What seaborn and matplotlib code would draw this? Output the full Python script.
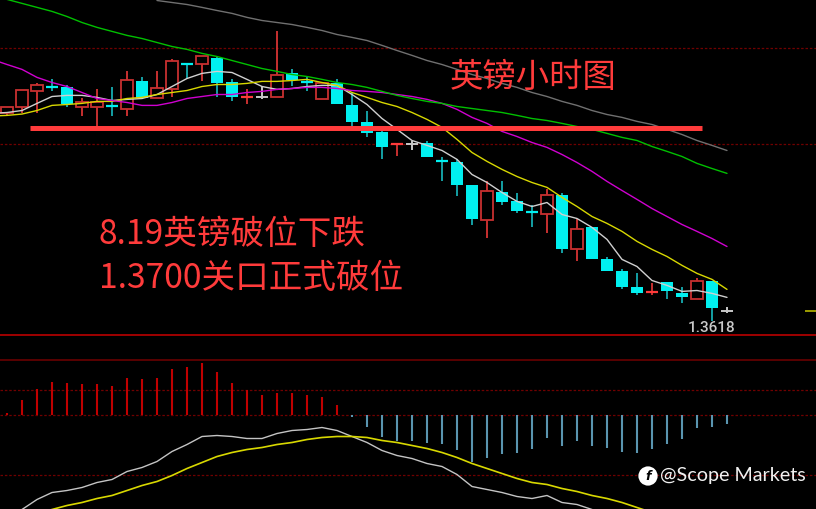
import numpy as np
import pandas as pd
import seaborn as sns
import matplotlib.pyplot as plt

# GBP hourly candles
opens = [1.37068, 1.37095, 1.37171, 1.37188, 1.37185, 1.37099, 1.37099, 1.37105, 1.37090, 1.37212,
         1.37135, 1.37176, 1.37294, 1.37288, 1.37315, 1.37207, 1.37139, 1.37140, 1.37144, 1.37248,
         1.37213, 1.37131, 1.37207, 1.37104, 1.37027, 1.36982, 1.36927, 1.36928, 1.36933, 1.36857,
         1.36847, 1.36744, 1.36586, 1.36712, 1.36672, 1.36628, 1.36613, 1.36699, 1.36460, 1.36555,
         1.36415, 1.36357, 1.36289, 1.36261, 1.36307, 1.36262, 1.36231, 1.36312, 1.36181]
highs = [1.37095, 1.37171, 1.37203, 1.37225, 1.37194, 1.37135, 1.37180, 1.37185, 1.37257, 1.37230,
         1.37257, 1.37311, 1.37294, 1.37324, 1.37324, 1.37225, 1.37180, 1.37189, 1.37437, 1.37266,
         1.37230, 1.37203, 1.37225, 1.37162, 1.37077, 1.37009, 1.36929, 1.36946, 1.36946, 1.36870,
         1.36865, 1.36744, 1.36762, 1.36762, 1.36708, 1.36658, 1.36726, 1.36708, 1.36595, 1.36555,
         1.36424, 1.36370, 1.36348, 1.36307, 1.36307, 1.36285, 1.36325, 1.36316, 1.36199]
lows = [1.37063, 1.37072, 1.37072, 1.37171, 1.37099, 1.37054, 1.37009, 1.37054, 1.37054, 1.37135,
        1.37135, 1.37140, 1.37225, 1.37212, 1.37140, 1.37126, 1.37108, 1.37131, 1.37144, 1.37189,
        1.37167, 1.37131, 1.37108, 1.37009, 1.36964, 1.36861, 1.36874, 1.36901, 1.36870, 1.36762,
        1.36694, 1.36568, 1.36505, 1.36658, 1.36618, 1.36555, 1.36528, 1.36438, 1.36402, 1.36415,
        1.36361, 1.36280, 1.36249, 1.36249, 1.36235, 1.36213, 1.36231, 1.36132, 1.36172]
closes = [1.37095, 1.37171, 1.37194, 1.37186, 1.37108, 1.37117, 1.37117, 1.37103, 1.37216, 1.37135,
          1.37180, 1.37302, 1.37292, 1.37324, 1.37207, 1.37140, 1.37141, 1.37140, 1.37239, 1.37216,
          1.37211, 1.37203, 1.37108, 1.37027, 1.36978, 1.36919, 1.36929, 1.36928, 1.36870, 1.36855,
          1.36748, 1.36591, 1.36717, 1.36667, 1.36627, 1.36626, 1.36699, 1.36460, 1.36550, 1.36415,
          1.36361, 1.36289, 1.36262, 1.36263, 1.36267, 1.36240, 1.36316, 1.36190, 1.36181]

# moving averages, first value is one bar before the first candle
ma_white = [1.37068, 1.37072, 1.37081, 1.37113, 1.37144, 1.37149, 1.37149, 1.37140, 1.37126, 1.37131,
            1.37135, 1.37153, 1.37189, 1.37225, 1.37248, 1.37257, 1.37252, 1.37221, 1.37189, 1.37176,
            1.37180, 1.37189, 1.37194, 1.37194, 1.37153, 1.37108, 1.37045, 1.36996, 1.36946, 1.36924,
            1.36901, 1.36861, 1.36793, 1.36757, 1.36712, 1.36672, 1.36649, 1.36667, 1.36613, 1.36595,
            1.36555, 1.36501, 1.36411, 1.36379, 1.36316, 1.36294, 1.36267, 1.36271, 1.36258, 1.36240]
ma_yellow = [1.37056, 1.37059, 1.37065, 1.37081, 1.37104, 1.37108, 1.37113, 1.37122, 1.37122, 1.37135,
             1.37140, 1.37153, 1.37162, 1.37171, 1.37189, 1.37198, 1.37198, 1.37203, 1.37212, 1.37212,
             1.37216, 1.37221, 1.37207, 1.37194, 1.37162, 1.37140, 1.37117, 1.37099, 1.37072, 1.37041,
             1.37005, 1.36951, 1.36892, 1.36852, 1.36816, 1.36784, 1.36757, 1.36735, 1.36690, 1.36649,
             1.36604, 1.36573, 1.36537, 1.36492, 1.36456, 1.36424, 1.36384, 1.36348, 1.36321, 1.36276]
ma_magenta = [1.37311, 1.37288, 1.37266, 1.37230, 1.37207, 1.37189, 1.37162, 1.37135, 1.37126, 1.37117,
              1.37104, 1.37104, 1.37117, 1.37135, 1.37144, 1.37153, 1.37153, 1.37162, 1.37167, 1.37176,
              1.37180, 1.37185, 1.37185, 1.37180, 1.37171, 1.37167, 1.37162, 1.37153, 1.37144, 1.37131,
              1.37113, 1.37086, 1.37050, 1.37023, 1.36987, 1.36964, 1.36937, 1.36915, 1.36883, 1.36847,
              1.36807, 1.36762, 1.36721, 1.36681, 1.36640, 1.36604, 1.36568, 1.36537, 1.36505, 1.36469]
ma_green = [1.37599, 1.37581, 1.37563, 1.37545, 1.37527, 1.37504, 1.37477, 1.37455, 1.37437, 1.37419,
            1.37405, 1.37387, 1.37369, 1.37356, 1.37338, 1.37324, 1.37306, 1.37288, 1.37270, 1.37257,
            1.37243, 1.37234, 1.37221, 1.37207, 1.37198, 1.37185, 1.37167, 1.37149, 1.37135, 1.37122,
            1.37113, 1.37099, 1.37090, 1.37081, 1.37072, 1.37059, 1.37045, 1.37036, 1.37023, 1.37009,
            1.36996, 1.36978, 1.36960, 1.36946, 1.36919, 1.36897, 1.36874, 1.36843, 1.36820, 1.36798]
# gray one enters the frame at bar 10
ma_gray = [1.37576, 1.37567, 1.37558, 1.37545, 1.37531, 1.37518, 1.37500, 1.37486, 1.37477, 1.37468,
           1.37455, 1.37441, 1.37423, 1.37410, 1.37396, 1.37374, 1.37351, 1.37329, 1.37306, 1.37288,
           1.37266, 1.37243, 1.37225, 1.37203, 1.37185, 1.37162, 1.37144, 1.37122, 1.37104, 1.37081,
           1.37063, 1.37050, 1.37032, 1.37018, 1.36996, 1.36973, 1.36946, 1.36924, 1.36901]

# MACD panel, in points (0.00001)
macd_hist = [2, 15, 26, 33, 32, 31, 31, 29, 37, 36,
             37, 46, 48, 52, 43, 32, 25, 20, 22, 22,
             20, 18, 10, -2, -12, -22, -26, -26, -28, -29,
             -35, -47, -43, -39, -38, -34, -23, -31, -26, -31,
             -33, -37, -38, -34, -29, -24, -13, -12, -9]
macd_dif = [-103, -95, -85, -78, -76, -73, -68, -65, -57, -53,
            -47, -37, -30, -22, -21, -22, -24, -24, -19, -16,
            -15, -13, -16, -22, -28, -36, -41, -44, -49, -52,
            -60, -72, -75, -78, -82, -84, -81, -88, -90, -95, -101]
macd_dea = [-99, -95, -91, -88, -84, -81, -76, -71, -67, -61,
            -54, -48, -42, -38, -35, -33, -30, -28, -25, -23,
            -22, -22, -23, -26, -28, -31, -34, -38, -43, -49,
            -54, -59, -64, -68, -70, -74, -77, -81, -84, -88, -93, -98]

key_level = 1.3700
price_grid = [1.373645, 1.36928]
macd_grid = [25, 0, -60]

CYAN = '#00f0f0'
TEAL = '#14a0a4'
RED = '#c83030'
BRIGHT_RED = '#ff3b3b'
GRID = '#700000'

sns.set_style('dark', rc={'axes.facecolor': 'black', 'figure.facecolor': 'black'})
plt.rcParams['font.family'] = ['Noto Sans CJK SC', 'DejaVu Sans']

fig = plt.figure(figsize=(8.16, 5.10), dpi=100)
ax = fig.add_axes([0, 175 / 510, 1, 335 / 510])
ax2 = fig.add_axes([0, 0, 1, 175 / 510])

# Candles
for i in range(len(opens)):
    o, h, l, c = opens[i], highs[i], lows[i], closes[i]
    if o == c:
        ax.vlines(i, l, h, color='#c8c8c8', lw=1.4, zorder=2)
        ax.hlines(c, i - 0.43, i + 0.43, color='#c8c8c8', lw=1.4, zorder=2)
    elif abs(o - c) < 0.00003:
        wick, bar = (TEAL, CYAN) if o > c else (RED, BRIGHT_RED)
        ax.vlines(i, l, h, color=wick, lw=1.4, zorder=2)
        ax.hlines(c, i - 0.43, i + 0.43, color=bar, lw=1.6, zorder=2)
    elif c > o:
        ax.vlines(i, l, h, color=RED, lw=1.4, zorder=2)
        ax.bar(i, c - o, bottom=o, width=0.82, facecolor='black', edgecolor=RED, lw=1.3, zorder=3)
    else:
        ax.vlines(i, l, h, color=TEAL, lw=1.4, zorder=2)
        ax.bar(i, o - c, bottom=c, width=0.84, facecolor=CYAN, edgecolor=CYAN, lw=0, zorder=3)

# Moving averages
ma_lines = [(-1, ma_white, '#d0d0d0'), (-1, ma_yellow, '#d8d800'), (-1, ma_magenta, '#d000d0'),
            (-1, ma_green, '#00c000'), (10, ma_gray, '#707070')]
for start, values, color in ma_lines:
    df = pd.DataFrame({'bar': np.arange(start, start + len(values)), 'price': values})
    sns.lineplot(data=df, x='bar', y='price', color=color, lw=1.0, ax=ax, zorder=4)

for level in price_grid:
    ax.axhline(level, color=GRID, lw=0.9, ls=(0, (2, 1.5)), zorder=1)

ax.hlines(key_level, 1.53, 46.33, color=BRIGHT_RED, lw=3.6, zorder=6)
# last price tick at the right edge
ax.hlines(closes[-1], 53.2, 54, color='#c8c800', lw=1.1, zorder=2)

ax.set_xlim(-7 / 15, 809 / 15)
ax.set_ylim(1.3607525, 1.3758275)
ax.axis('off')

# MACD
hist_colors = ['#c00000' if v > 0 else '#5a95b0' for v in macd_hist]
ax2.vlines(np.arange(len(macd_hist)), 0, macd_hist, colors=hist_colors, lw=1.5, zorder=2)
sns.lineplot(x=np.arange(len(macd_dif)), y=macd_dif, color='#c4c4c4', lw=1.0, ax=ax2, zorder=4)
sns.lineplot(x=np.arange(2, 2 + len(macd_dea)), y=macd_dea, color='#d8d800', lw=1.2, ax=ax2, zorder=4)

for level in macd_grid:
    ax2.axhline(level, color=GRID, lw=0.9, ls=(0, (2, 1.5)), zorder=1)
ax2.axhline(55, color='#5a0000', lw=1.4, zorder=1)
ax2.axhline(80, color='#a00000', lw=1.4, zorder=1)

ax2.set_xlim(-7 / 15, 809 / 15)
ax2.set_ylim(-94.5, 80.5)
ax2.axis('off')

# Annotations
fig.text(449.5 / 816, 1 - 77.5 / 510, '英镑小时图', color=BRIGHT_RED, fontsize=24, va='center', zorder=8)
fig.text(99 / 816, 1 - 235 / 510, '8.19英镑破位下跌', color=BRIGHT_RED, fontsize=24.2, va='center', zorder=8)
fig.text(99 / 816, 1 - 278.5 / 510, '1.3700关口正式破位', color=BRIGHT_RED, fontsize=24.2, va='center', zorder=8)
fig.text(711.5 / 816, 1 - 328 / 510, '1.3618', color='#c8c8c8', fontsize=11, ha='center', va='center',
         family='Roboto', fontweight='medium', zorder=8)

# watermark
fig.text(648 / 816, 1 - 477 / 510, 'f', color='black', fontsize=9, fontweight='bold', style='italic',
         ha='center', va='center', family='DejaVu Sans', zorder=8,
         bbox=dict(boxstyle='circle,pad=0.25', fc='white', ec='none'))
fig.text(660 / 816, 1 - 476 / 510, '@Scope Markets', color='#f0f0f0', fontsize=14.2, va='center',
         family='Lato', zorder=8)

plt.savefig('out.png', dpi=100, facecolor='black')
plt.close()
